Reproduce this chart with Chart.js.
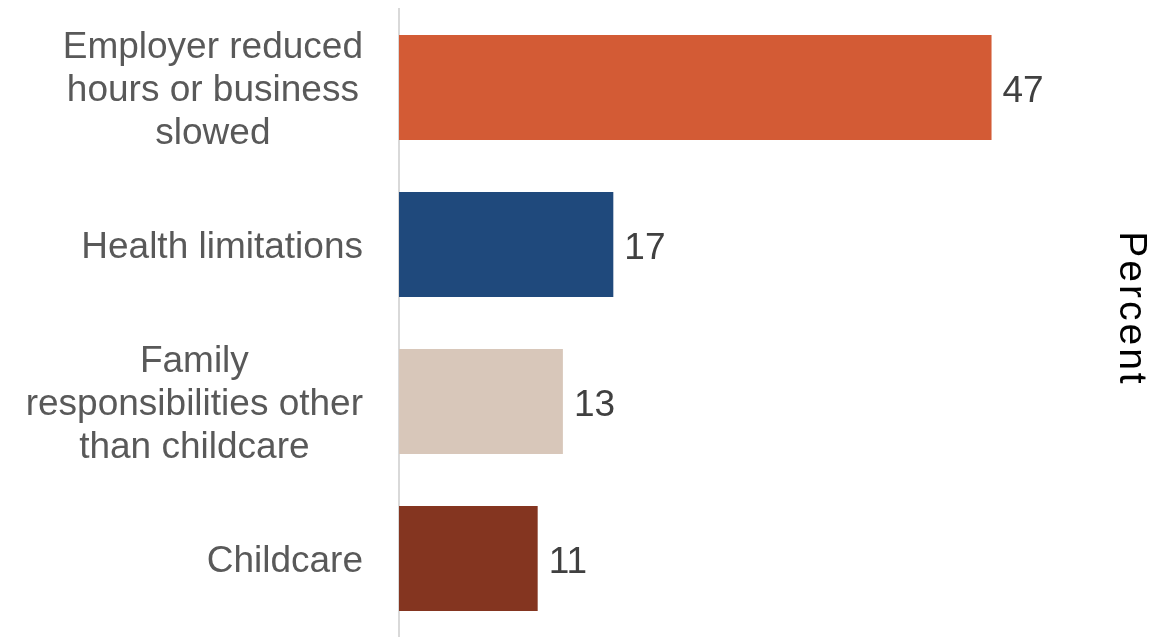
<!DOCTYPE html>
<html>
<head>
<meta charset="utf-8">
<script src="https://cdn.jsdelivr.net/npm/chart.js@4.4.1/dist/chart.umd.min.js"></script>
<style>
  html, body { margin: 0; padding: 0; background: #fff; }
  #wrap { width: 1168px; height: 637px; position: relative; }
</style>
</head>
<body>
<div id="wrap"><canvas id="reasonsChart"></canvas></div>
<script>
// ========== 数据 ==========
const categories = [
  ['Employer reduced', 'hours or business', 'slowed'],
  ['Health limitations'],
  ['Family', 'responsibilities other', 'than childcare'],
  ['Childcare']
]
const percentValues = [47, 17, 13, 11]
const barColors = ['#D35B35', '#1F497C', '#D8C7BA', '#843520']
const axisTitle = 'Percent'

const FONT = '"Liberation Sans", Arial, sans-serif'

// 左侧分类标签：块右对齐，行内居中
const categoryLabels = {
  id: 'categoryLabels',
  afterDraw(chart) {
    const { ctx, scales } = chart
    const yScale = scales.y
    const rightEdge = chart.chartArea.left - 36
    const lineHeight = 43
    ctx.save()
    ctx.font = '37px ' + FONT
    ctx.fillStyle = '#595959'
    ctx.textAlign = 'center'
    ctx.textBaseline = 'middle'
    categories.forEach((lines, i) => {
      const blockWidth = Math.max(...lines.map(l => ctx.measureText(l).width))
      const cx = rightEdge - blockWidth / 2
      const cy = yScale.getPixelForValue(i) + 3
      lines.forEach((line, j) => {
        ctx.fillText(line, cx, cy + (j - (lines.length - 1) / 2) * lineHeight)
      })
    })
    ctx.restore()
  }
}

// 柱末端数值
const valueLabels = {
  id: 'valueLabels',
  afterDatasetsDraw(chart) {
    const { ctx } = chart
    const meta = chart.getDatasetMeta(0)
    ctx.save()
    ctx.font = '37px ' + FONT
    ctx.fillStyle = '#404040'
    ctx.textAlign = 'left'
    ctx.textBaseline = 'middle'
    meta.data.forEach((bar, i) => {
      ctx.fillText(String(percentValues[i]), bar.x + 11, bar.y + 4)
    })
    ctx.restore()
  }
}

// 右侧竖排标题
const sideTitle = {
  id: 'sideTitle',
  afterDraw(chart) {
    const { ctx } = chart
    ctx.save()
    ctx.translate(1131, 309)
    ctx.rotate(Math.PI / 2)
    ctx.font = '39px ' + FONT
    ctx.letterSpacing = '3px'
    ctx.fillStyle = '#000000'
    ctx.textAlign = 'center'
    ctx.textBaseline = 'middle'
    ctx.fillText(axisTitle, 0, 0)
    ctx.restore()
  }
}

new Chart(document.getElementById('reasonsChart').getContext('2d'), {
  type: 'bar',
  data: {
    labels: categories.map(c => c.join(' ')),
    datasets: [
      {
        data: percentValues,
        backgroundColor: barColors,
        borderWidth: 0,
        categoryPercentage: 1,
        barPercentage: 0.668
      }
    ]
  },
  options: {
    indexAxis: 'y',
    responsive: true,
    maintainAspectRatio: false,
    animation: false,
    layout: { padding: { left: 391, right: 63, top: 9, bottom: 0 } },
    plugins: {
      legend: { display: false },
      tooltip: { enabled: false }
    },
    scales: {
      x: { display: false, min: 0, max: 56 },
      y: {
        ticks: { display: false },
        grid: { display: false },
        border: { display: true, color: '#D9D9D9', width: 2 }
      }
    }
  },
  plugins: [categoryLabels, valueLabels, sideTitle]
})
</script>
</body>
</html>
